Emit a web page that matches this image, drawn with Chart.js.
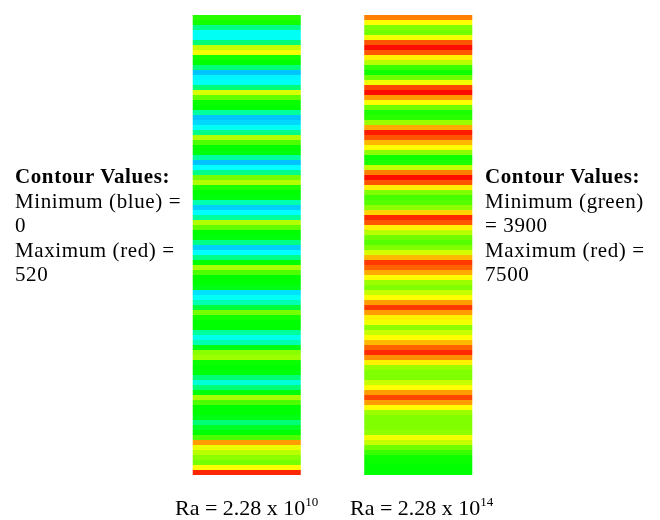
<!DOCTYPE html>
<html>
<head>
<meta charset="utf-8">
<script src="https://cdn.jsdelivr.net/npm/chart.js@4.4.1/dist/chart.umd.min.js"></script>
<style>
  body { margin: 0; background: #fff; font-family: "Liberation Serif", "Times New Roman", serif; color: #000; }
  #wrap { position: relative; width: 660px; height: 520px; overflow: hidden; }
  #chart { position: absolute; left: 0; top: 0; }
  .note { position: absolute; top: 164px; font-size: 21px; line-height: 24.5px; letter-spacing: 0.6px; white-space: nowrap; }
  .note b { font-weight: bold; }
  .ra { position: absolute; top: 497px; font-size: 22px; line-height: 22px; white-space: nowrap; }
  .ra sup { font-size: 13px; line-height: 0; vertical-align: 9px; }
</style>
</head>
<body>
<div id="wrap">
  <canvas id="chart" width="660" height="520"></canvas>
  <div class="note" style="left:15px">
    <b>Contour Values:</b><br>Minimum (blue) =<br>0<br>Maximum (red) =<br>520
  </div>
  <div class="note" style="left:485px">
    <b>Contour Values:</b><br>Minimum (green)<br>= 3900<br>Maximum (red) =<br>7500
  </div>
  <div class="ra" style="left:175px">Ra = 2.28 x 10<sup>10</sup></div>
  <div class="ra" style="left:350px">Ra = 2.28 x 10<sup>14</sup></div>
</div>
<script>
// Casos (uno por columna)
const cases = ['Ra = 2.28 x 10^10', 'Ra = 2.28 x 10^14'];

// Valores de contorno por franja, de arriba hacia abajo
const contourLow = [
  280, 270, 190, 135, 135, 200, 360, 385, 270, 260,
  200, 100, 125, 135, 200, 370, 310, 265, 260, 180,
  100, 110, 135, 190, 350, 300, 260, 255, 180, 100,
  130, 190, 320, 350, 275, 260, 255, 170, 105, 130,
  180, 350, 310, 260, 255, 190, 105, 130, 190, 260,
  345, 300, 260, 260, 250, 115, 135, 170, 230, 320,
  270, 260, 260, 180, 140, 170, 250, 330, 340, 265,
  260, 255, 200, 150, 200, 255, 345, 300, 260, 260,
  250, 200, 240, 260, 300, 440, 380, 355, 330, 320,
  390, 500
];
const contourHigh = [
  6600, 5700, 4800, 4700, 5600, 6900, 7400, 6900, 5800, 5200,
  4300, 4000, 4700, 5600, 7000, 7400, 6400, 5700, 4700, 4100,
  4200, 5000, 6300, 7300, 6900, 6200, 5700, 4900, 4000, 4100,
  5300, 6600, 7400, 6900, 5800, 4800, 4400, 4500, 4900, 6000,
  7200, 6900, 5800, 5200, 4700, 4500, 4800, 5400, 6200, 7100,
  6800, 6300, 5700, 5000, 4800, 5300, 5700, 6400, 7100, 6400,
  5800, 5600, 4900, 5300, 5700, 6200, 6800, 7200, 6500, 5800,
  5000, 4800, 4800, 5300, 5700, 6400, 7000, 6400, 5700, 5000,
  4800, 4800, 4800, 4900, 5600, 5300, 4700, 4300, 4000, 3950,
  3900, 3900
];

// Rangos de cada escala de color
const lowMin = 0, lowMax = 520;
const highMin = 3900, highMax = 7500;

// Azul -> rojo para la primera, verde -> rojo para la segunda
function colorLow(v) {
  const t = Math.min(1, Math.max(0, (v - lowMin) / (lowMax - lowMin)));
  return `hsl(${240 * (1 - t)}, 100%, 50%)`;
}
function colorHigh(v) {
  const t = Math.min(1, Math.max(0, (v - highMin) / (highMax - highMin)));
  return `hsl(${120 * (1 - t)}, 100%, 50%)`;
}

// Cada franja es un dataset apilado de altura 1
const datasets = contourLow.map((v, i) => ({
  data: [1, 1],
  backgroundColor: [colorLow(v), colorHigh(contourHigh[i])],
  borderWidth: 0,
  barPercentage: 0.63,
  categoryPercentage: 1
}));

new Chart(document.getElementById('chart'), {
  type: 'bar',
  data: { labels: cases, datasets: datasets },
  options: {
    responsive: false,
    animation: false,
    events: [],
    layout: { padding: { left: 161, right: 156, top: 15, bottom: 45 } },
    plugins: { legend: { display: false }, tooltip: { enabled: false } },
    scales: {
      x: { stacked: true, display: false },
      y: { stacked: true, display: false, reverse: true, min: 0, max: contourLow.length }
    }
  }
});
</script>
</body>
</html>
